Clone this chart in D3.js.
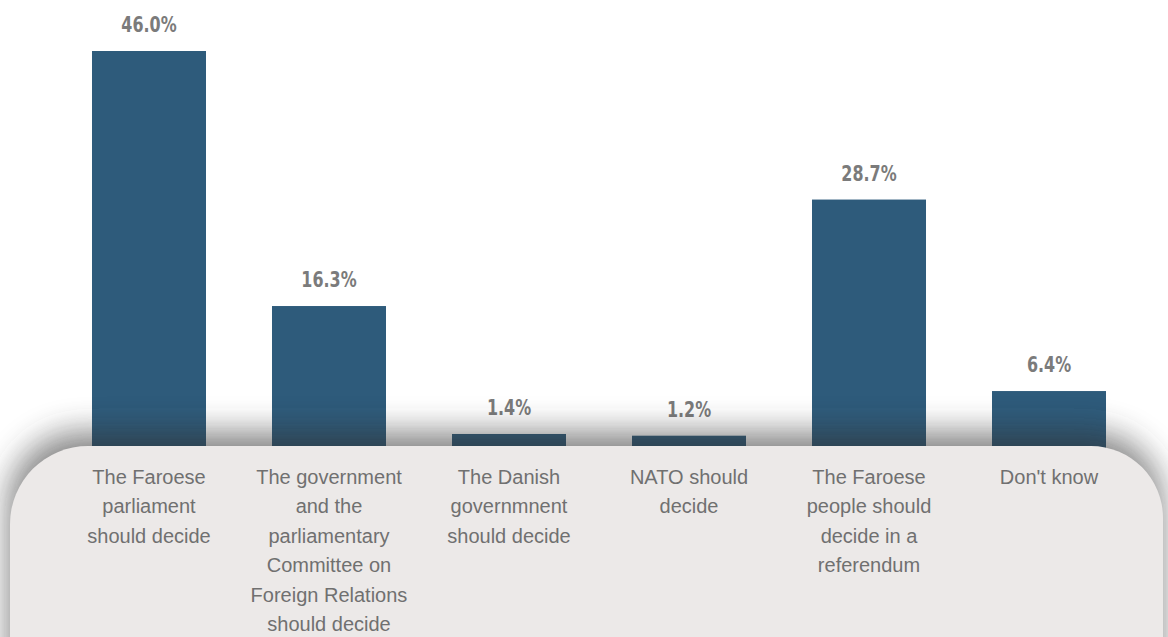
<!DOCTYPE html>
<html><head><meta charset="utf-8">
<script src="https://cdn.jsdelivr.net/npm/d3@7"></script>
<style>html,body{margin:0;padding:0;background:#fff;}svg{display:block;}</style>
</head><body>
<script>
const categories = [
  "The Faroese parliament should decide",
  "The government and the parliamentary Committee on Foreign Relations should decide",
  "The Danish governmnent should decide",
  "NATO should decide",
  "The Faroese people should decide in a referendum",
  "Don't know"
];
const labelLines = [
  ["The Faroese","parliament","should decide"],
  ["The government","and the","parliamentary","Committee on","Foreign Relations","should decide"],
  ["The Danish","governmnent","should decide"],
  ["NATO should","decide"],
  ["The Faroese","people should","decide in a","referendum"],
  ["Don't know"]
];
const values = [46.0, 16.3, 1.4, 1.2, 28.7, 6.4];

const W = 1168, H = 637;
const baseY = 446;
const svg = d3.select("body").append("svg").attr("width", W).attr("height", H);
const defs = svg.append("defs");
const f = defs.append("filter").attr("id","sh").attr("x","-20%").attr("y","-50%").attr("width","140%").attr("height","200%");
f.append("feGaussianBlur").attr("stdDeviation", 16);

const x = d3.scaleBand().domain(categories).range([59, 1139]).paddingInner(0.3667).paddingOuter(0.1833);
const y = d3.scaleLinear().domain([0, 46]).range([baseY, 51]);

svg.selectAll("rect.bar").data(values).join("rect").attr("class","bar")
  .attr("x",(d,i)=>x(categories[i])).attr("width",x.bandwidth())
  .attr("y",d=>y(d)).attr("height",d=>baseY-y(d)+10).attr("fill","#2e5b7b");

svg.selectAll("text.val").data(values).join("text").attr("class","val")
  .attr("transform",(d,i)=>`translate(${x(categories[i])+x.bandwidth()/2},${y(d)-19}) scale(0.76,1)`)
  .attr("text-anchor","middle").attr("fill","#7b7b7b")
  .style("font-family","'DejaVu Sans',sans-serif")
  .style("font-weight","bold").style("font-size","21px")
  .text(d=>d.toFixed(1)+"%");

function panelPath(x0, y0, x1, y1, rl, rr){
  return `M${x0},${y1} L${x0},${y0+rl} A${rl},${rl} 0 0 1 ${x0+rl},${y0} L${x1-rr},${y0} A${rr},${rr} 0 0 1 ${x1},${y0+rr} L${x1},${y1} Z`;
}
svg.append("path").attr("d", panelPath(8, baseY-14, 1162, H+60, 75, 72))
  .attr("fill","#333").attr("opacity",0.6).attr("filter","url(#sh)");
svg.append("path").attr("d", panelPath(10, baseY, 1163, H+60, 78, 72))
  .attr("fill","#ece9e8");

const g = svg.selectAll("g.lab").data(labelLines).join("g").attr("class","lab");
g.each(function(lines,i){
  const cx = x(categories[i]) + x.bandwidth()/2;
  d3.select(this).selectAll("text").data(lines).join("text")
    .attr("x",cx).attr("y",(d,j)=>484+j*29.4)
    .attr("text-anchor","middle").attr("fill","#707070")
    .style("font-family","'Liberation Sans',Arial,sans-serif").style("font-size","20px")
    .text(d=>d);
});
</script>
</body></html>
